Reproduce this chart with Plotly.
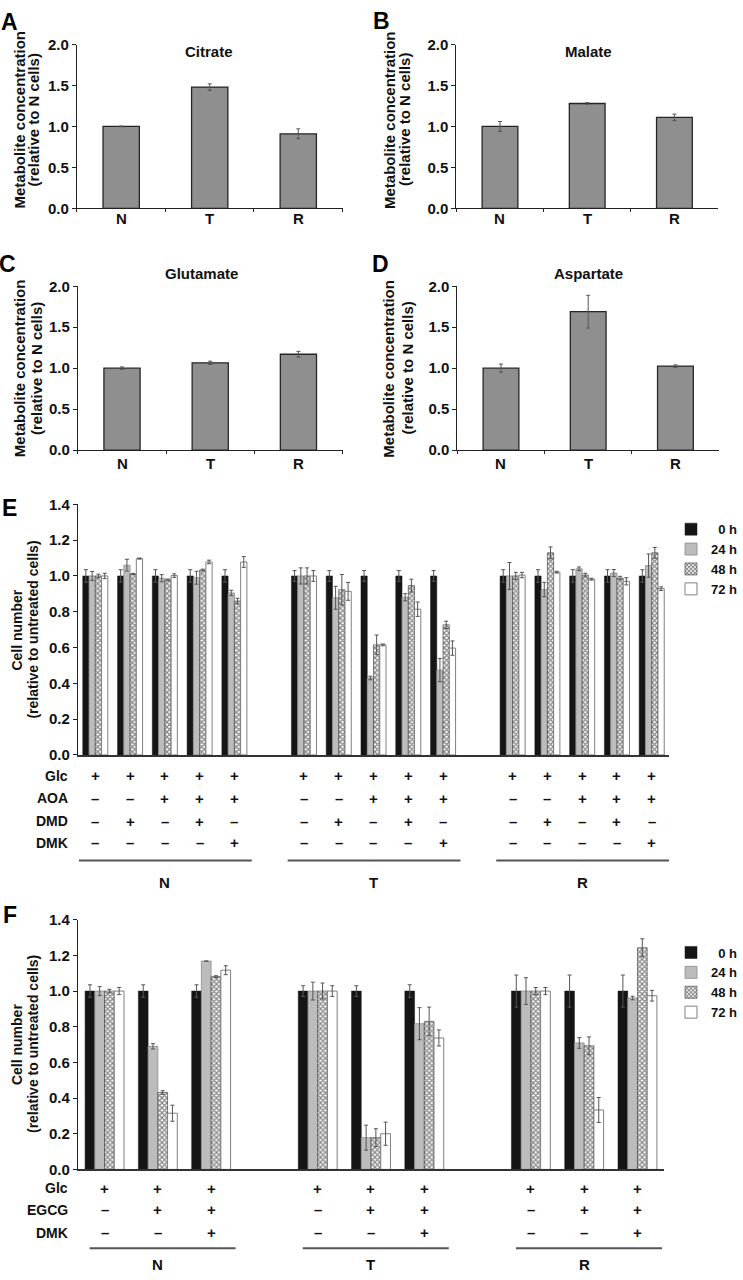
import plotly.graph_objects as go

# ---------------- data ----------------
met_categories = ["N", "T", "R"]
citrate = [1.00, 1.48, 0.91]
citrate_err = [0.005, 0.04, 0.06]
malate = [1.00, 1.28, 1.11]
malate_err = [0.06, 0.01, 0.04]
glutamate = [1.00, 1.065, 1.17]
glutamate_err = [0.015, 0.02, 0.035]
aspartate = [1.00, 1.69, 1.025]
aspartate_err = [0.05, 0.20, 0.015]

cell_groups = ["N", "T", "R"]
time_labels = ["0 h", "24 h", "48 h", "72 h"]

# Panel E (5 conditions per cell line: N, T, R)
E_rows = ["Glc", "AOA", "DMD", "DMK"]
E_signs = [
    ["+", "+", "+", "+", "+"],
    ["–", "–", "+", "+", "+"],
    ["–", "+", "–", "+", "–"],
    ["–", "–", "–", "–", "+"],
]
E_0h = [1.00, 1.00, 1.00, 1.00, 1.00, 1.00, 1.00, 1.00, 1.00, 1.00, 1.00, 1.00, 1.00, 1.00, 1.00]
E_0h_err = [0.035, 0.035, 0.035, 0.035, 0.035, 0.03, 0.03, 0.03, 0.03, 0.03, 0.035, 0.035, 0.035, 0.035, 0.035]
E_24h = [1.00, 1.06, 0.987, 0.99, 0.905, 1.00, 0.878, 0.43, 0.881, 0.474, 1.00, 0.924, 1.04, 1.016, 1.058]
E_24h_err = [0.025, 0.033, 0.02, 0.036, 0.015, 0.045, 0.064, 0.01, 0.02, 0.065, 0.075, 0.04, 0.01, 0.02, 0.065]
E_48h = [1.00, 1.011, 0.978, 1.033, 0.86, 1.00, 0.923, 0.615, 0.946, 0.727, 1.00, 1.129, 1.005, 0.988, 1.129]
E_48h_err = [0.01, 0.003, 0.005, 0.005, 0.015, 0.045, 0.085, 0.055, 0.036, 0.02, 0.02, 0.033, 0.01, 0.01, 0.03]
E_72h = [1.00, 1.097, 1.002, 1.078, 1.078, 1.00, 0.914, 0.615, 0.814, 0.597, 1.005, 1.021, 0.982, 0.97, 0.929]
E_72h_err = [0.015, 0.003, 0.01, 0.01, 0.03, 0.03, 0.05, 0.005, 0.04, 0.04, 0.015, 0.005, 0.005, 0.02, 0.01]

# Panel F (3 conditions per cell line)
F_rows = ["Glc", "EGCG", "DMK"]
F_signs = [
    ["+", "+", "+"],
    ["–", "+", "+"],
    ["–", "–", "+"],
]
F_0h = [1.00, 1.00, 1.00, 1.00, 1.00, 1.00, 1.00, 1.00, 1.00]
F_0h_err = [0.035, 0.035, 0.035, 0.03, 0.03, 0.035, 0.09, 0.09, 0.09]
F_24h = [1.00, 0.69, 1.168, 1.00, 0.178, 0.817, 1.00, 0.709, 0.961]
F_24h_err = [0.025, 0.015, 0.0, 0.05, 0.07, 0.09, 0.075, 0.03, 0.01]
F_48h = [1.00, 0.431, 1.081, 1.00, 0.178, 0.83, 1.00, 0.693, 1.243]
F_48h_err = [0.01, 0.01, 0.005, 0.045, 0.05, 0.08, 0.02, 0.05, 0.05]
F_72h = [1.00, 0.315, 1.117, 1.00, 0.20, 0.737, 1.00, 0.333, 0.974]
F_72h_err = [0.02, 0.045, 0.025, 0.03, 0.065, 0.045, 0.02, 0.07, 0.03]

# ---------------- layout helpers ----------------
W, H = 743, 1280
FONT = "Liberation Sans, Arial, sans-serif"


def px(x):
    return x / W


def py(y):
    return 1 - y / H


fig = go.Figure()
annotations = []
shapes = []
layout = {}

err_style = dict(type="data", color="#555555", thickness=1, width=2)

# ---------------- Panels A-D ----------------
met_panels = [
    ("A", "Citrate", citrate, citrate_err, "", (77, 343), (36, 202), (10, 13), (209, 43), (20, 34), 112, 212),
    ("B", "Malate", malate, malate_err, "2", (457, 719), (36, 202), (382, 12), (589, 43), (390, 405), 112, 212),
    ("C", "Glutamate", glutamate, glutamate_err, "3", (78, 343), (281, 447), (8, 258), (202, 268), (19, 36), 364, 461),
    ("D", "Aspartate", aspartate, aspartate_err, "4", (458, 720), (281, 447), (381, 258), (589, 268), (389, 408), 364, 461),
]

for letter, title, vals, errs, ax, xd, yd, lpos, tpos, ytx, yty, xly in met_panels:
    fig.add_trace(go.Bar(
        x=met_categories, y=vals,
        error_y=dict(array=errs, **err_style),
        marker=dict(color="#8f8f8f", line=dict(color="#262626", width=1.3)),
        width=0.41, showlegend=False,
        xaxis="x" + ax, yaxis="y" + ax,
    ))
    layout["xaxis" + ax] = dict(
        domain=[px(xd[0]), px(xd[1])], anchor="y" + ax, type="category",
        range=[-0.5, 2.5], showline=True, linecolor="#222", linewidth=1.2,
        ticks="outside", tickson="boundaries", ticklen=3, tickcolor="#222",
        showticklabels=False, showgrid=False, zeroline=False, fixedrange=True,
    )
    layout["yaxis" + ax] = dict(
        domain=[py(yd[1]), py(yd[0])], anchor="x" + ax,
        range=[0, 2.0], dtick=0.5, tickformat=".1f",
        showline=True, linecolor="#222", linewidth=1.2,
        ticks="outside", ticklen=4, tickcolor="#222",
        tickfont=dict(size=15, family=FONT, color="#111", weight="bold"),
        showgrid=False, zeroline=False, fixedrange=True,
    )
    # category labels
    for c in met_categories:
        annotations.append(dict(
            x=c, xref="x" + ax, y=py(xly), yref="paper", text=c, showarrow=False,
            font=dict(size=15, family=FONT, color="#111", weight="bold"),
            xanchor="center", yanchor="middle",
        ))
    annotations.append(dict(x=px(lpos[0]), y=py(lpos[1]), xref="paper", yref="paper",
                            text=letter, showarrow=False, xanchor="center", yanchor="middle",
                            font=dict(size=23, family=FONT, color="#000", weight="bold")))
    annotations.append(dict(x=px(tpos[0]), y=py(tpos[1]), xref="paper", yref="paper",
                            text=title, showarrow=False, xanchor="center", yanchor="middle",
                            font=dict(size=15, family=FONT, color="#111", weight="bold")))
    for lx, txt in zip(ytx, ["Metabolite concentration", "(relative to N cells)"]):
        annotations.append(dict(x=px(lx), y=py(yty), xref="paper", yref="paper",
                                text=txt, showarrow=False, textangle=-90,
                                xanchor="center", yanchor="middle",
                                font=dict(size=15, family=FONT, color="#111", weight="bold")))

# ---------------- Panels E, F ----------------
bar_styles = [
    dict(color="#151515", line=dict(color="#151515", width=0.5)),
    dict(color="#bcbcbc", line=dict(color="#8a8a8a", width=0.8)),
    dict(color="white", line=dict(color="#333", width=0.6),
         pattern=dict(shape="x", fgcolor="#111", bgcolor="white", size=3.5, solidity=0.6)),
    dict(color="white", line=dict(color="#808080", width=1)),
]
legend_names = ["\u00a0\u00a00 h", "24 h", "48 h", "72 h"]

cell_panels = [
    ("E", "5", "legend", E_rows, E_signs, [E_0h, E_24h, E_48h, E_72h],
     [E_0h_err, E_24h_err, E_48h_err, E_72h_err],
     (78, 670), (502, 756), (10, 506), 629, [777, 800, 823, 845], 863, 885, 0.72, (-0.47, 0.5)),
    ("F", "6", "legend2", F_rows, F_signs, [F_0h, F_24h, F_48h, F_72h],
     [F_0h_err, F_24h_err, F_48h_err, F_72h_err],
     (78, 665), (923, 1176), (10, 918), 1049, [1195, 1217, 1240], 1256, 1272, 0.73, (-0.28, 0.46)),
]

for (letter, ax, leg, rows, signs, series, serrs, xd, yd, lpos, ytc, row_y,
     line_y, grp_y, cluster_w, line_pad) in cell_panels:
    n_cond = len(signs[0])
    step = n_cond + 1
    xs = [g * step + c for g in range(len(cell_groups)) for c in range(n_cond)]
    bw = cluster_w / len(series)
    for t, (vals, errs) in enumerate(zip(series, serrs)):
        fig.add_trace(go.Bar(
            x=xs, y=vals, name=legend_names[t],
            error_y=dict(array=errs, **err_style),
            marker=bar_styles[t], width=bw, offset=-cluster_w / 2 + t * bw,
            xaxis="x" + ax, yaxis="y" + ax, legend=leg, legendgroup=leg + str(t),
            showlegend=True,
        ))
    n_slots = len(cell_groups) * step - 1
    layout["xaxis" + ax] = dict(
        domain=[px(xd[0]), px(xd[1])], anchor="y" + ax,
        range=[-0.5, n_slots - 0.5], showline=True, linecolor="#333", linewidth=2,
        ticks="", showticklabels=False, showgrid=False, zeroline=False, fixedrange=True,
    )
    layout["yaxis" + ax] = dict(
        domain=[py(yd[1]), py(yd[0])], anchor="x" + ax,
        range=[0, 1.4], dtick=0.2, tickformat=".1f",
        showline=True, linecolor="#222", linewidth=1.2,
        ticks="outside", ticklen=4, tickcolor="#222",
        tickfont=dict(size=15, family=FONT, color="#111", weight="bold"),
        showgrid=False, zeroline=False, fixedrange=True,
    )
    annotations.append(dict(x=px(lpos[0]), y=py(lpos[1]), xref="paper", yref="paper",
                            text=letter, showarrow=False, xanchor="center", yanchor="middle",
                            font=dict(size=23, family=FONT, color="#000", weight="bold")))
    for lx, txt in zip((17, 33), ["Cell number", "(relative to untreated cells)"]):
        annotations.append(dict(x=px(lx), y=py(ytc), xref="paper", yref="paper",
                                text=txt, showarrow=False, textangle=-90,
                                xanchor="center", yanchor="middle",
                                font=dict(size=14, family=FONT, color="#111", weight="bold")))
    # treatment table
    for r, (rname, rsigns) in enumerate(zip(rows, signs)):
        annotations.append(dict(x=px(70), y=py(row_y[r]), xref="paper", yref="paper",
                                text=rname, showarrow=False, xanchor="right", yanchor="middle",
                                font=dict(size=14, family=FONT, color="#111", weight="bold")))
        for g in range(len(cell_groups)):
            for c, s in enumerate(rsigns):
                annotations.append(dict(x=g * step + c, xref="x" + ax, y=py(row_y[r]), yref="paper",
                                        text=s, showarrow=False, xanchor="center", yanchor="middle",
                                        font=dict(size=15, family=FONT, color="#111", weight="bold")))
    for g, gname in enumerate(cell_groups):
        shapes.append(dict(type="line", xref="x" + ax, yref="paper",
                           x0=g * step + line_pad[0], x1=g * step + n_cond - 1 + line_pad[1],
                           y0=py(line_y), y1=py(line_y), line=dict(color="#555", width=2)))
        annotations.append(dict(x=g * step + (n_cond - 1) / 2, xref="x" + ax, y=py(grp_y), yref="paper",
                                text=gname, showarrow=False, xanchor="center", yanchor="middle",
                                font=dict(size=15, family=FONT, color="#111", weight="bold")))

legend_common = dict(
    xanchor="left", yanchor="top", bgcolor="rgba(0,0,0,0)", borderwidth=0,
    font=dict(size=13, family=FONT, color="#111", weight="bold"),
    tracegroupgap=2, itemwidth=30, traceorder="normal",
)

fig.update_layout(
    width=W, height=H, margin=dict(l=0, r=0, t=0, b=0),
    paper_bgcolor="white", plot_bgcolor="white",
    font=dict(family=FONT, color="#111"),
    barmode="overlay",
    legend=dict(x=px(672), y=py(512), **legend_common),
    legend2=dict(x=px(672), y=py(941), **legend_common),
    annotations=annotations, shapes=shapes,
    **layout,
)

fig.write_html(
    "out.html",
    config={"displayModeBar": False},
    post_script="document.body.style.margin='0';document.body.style.padding='0';"
                "document.documentElement.style.overflow='hidden';",
)
